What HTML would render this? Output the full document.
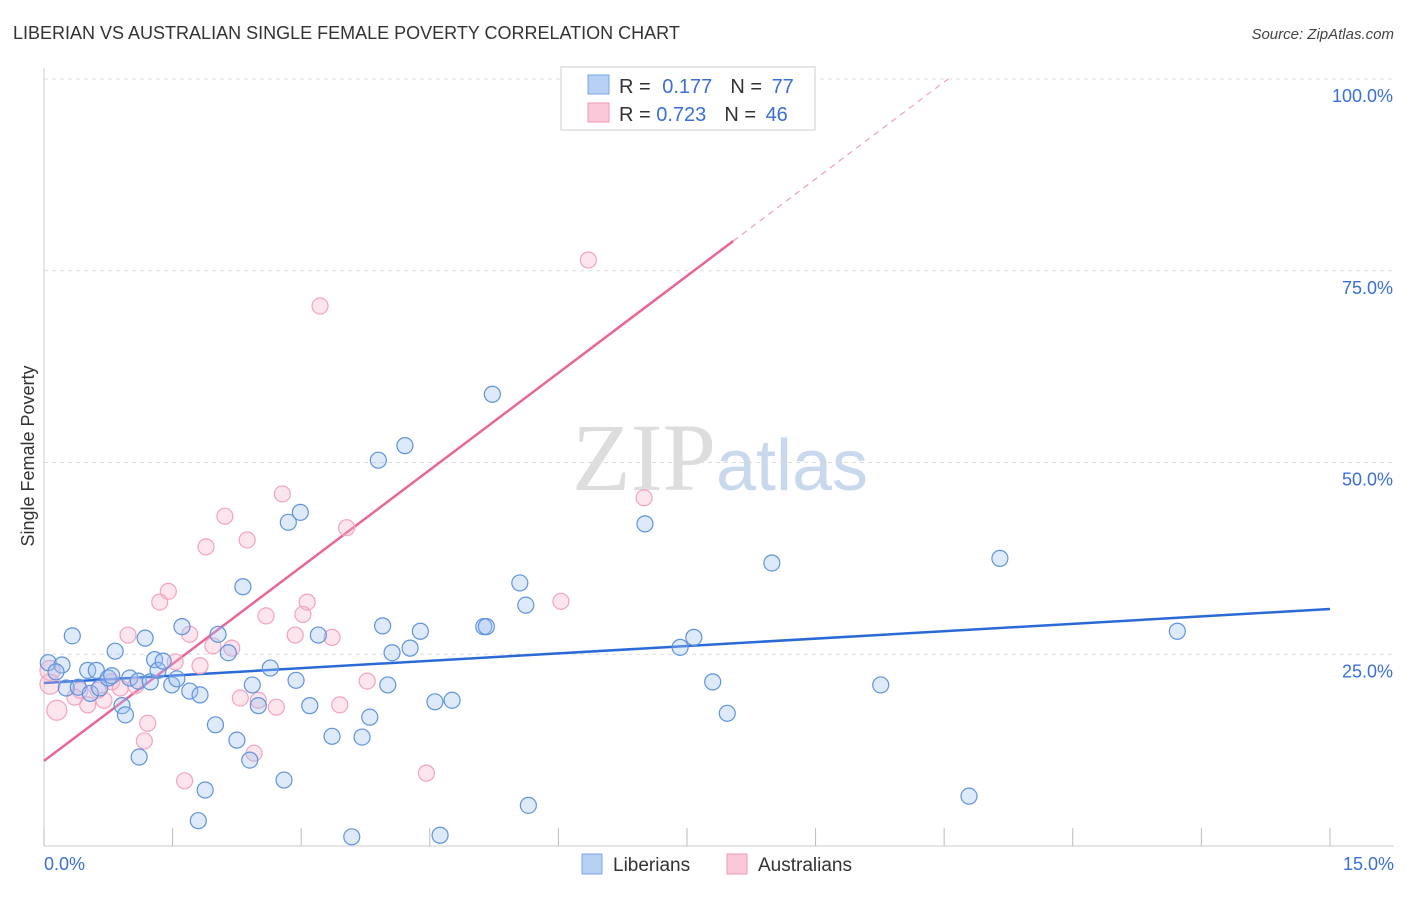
<!DOCTYPE html>
<html><head><meta charset="utf-8">
<style>
body{margin:0;background:#fff;font-family:"Liberation Sans",sans-serif;}
svg text{font-family:"Liberation Sans",sans-serif;}
</style></head>
<body>
<svg id="chart" width="1406" height="892" xmlns="http://www.w3.org/2000/svg">
<text x="13" y="39" font-size="18" fill="#333">LIBERIAN VS AUSTRALIAN SINGLE FEMALE POVERTY CORRELATION CHART</text>
<text x="1394" y="39" font-size="15" fill="#444" text-anchor="end" font-style="italic">Source: ZipAtlas.com</text>
<text x="720" y="490" font-size="96" text-anchor="middle"><tspan fill="#ddd" font-family="Liberation Serif">ZIP</tspan><tspan fill="#c8d9ee" font-size="72">atlas</tspan></text>
<text transform="translate(34,456) rotate(-90)" font-size="18" fill="#333" text-anchor="middle">Single Female Poverty</text>
<g id="grid"></g><g id="axes"></g><g id="lines"></g><g id="pts"></g>
<g>
<rect x="561" y="67" width="254" height="63" fill="#fff" stroke="#ccc"/>
<rect x="588" y="75" width="21" height="19" fill="#b8d0f4" stroke="#7aa4e4"/>
<rect x="588" y="103" width="21" height="19" fill="#fac8d8" stroke="#ee9ab6"/>
<text x="619" y="93" font-size="20" fill="#333">R = <tspan fill="#3a6fd8" dx="6">0.177</tspan><tspan fill="#333" dx="18">N = </tspan><tspan fill="#3a6fd8" dx="4">77</tspan></text>
<text x="619" y="121" font-size="20" fill="#333">R = <tspan fill="#3a6fd8">0.723</tspan><tspan fill="#333" dx="18">N = </tspan><tspan fill="#3a6fd8" dx="4">46</tspan></text>
</g>
<g>
<rect x="582" y="854" width="20" height="20" fill="#b8d0f4" stroke="#7aa4e4"/>
<text x="613" y="871" font-size="19" fill="#333">Liberians</text>
<rect x="727" y="854" width="20" height="20" fill="#fac8d8" stroke="#ee9ab6"/>
<text x="758" y="871" font-size="19" fill="#333">Australians</text>
</g>
</svg>
<script>
const xTicks=[0,1.5,3,4.5,6,7.5,9,10.5,12,13.5,15];
const yTicks=[25,50,75,100];
const yTickLabels=["25.0%","50.0%","75.0%","100.0%"];
const blueX=[0.05,0.21,0.14,0.33,0.26,0.4,0.51,0.61,0.54,0.65,0.75,0.79,0.83,0.91,0.95,1.0,1.1,1.11,1.18,1.24,1.29,1.33,1.39,1.49,1.55,1.61,1.7,1.82,1.8,1.88,2.0,2.03,2.15,2.25,2.32,2.4,2.43,2.5,2.64,2.8,2.85,2.94,2.99,3.1,3.2,3.36,3.59,3.71,3.8,3.9,3.95,4.01,4.06,4.21,4.27,4.39,4.56,4.62,4.76,5.13,5.16,5.23,5.55,5.62,5.65,7.01,7.42,7.58,7.8,7.97,8.49,9.76,10.79,11.15,13.22];
const blueY=[23.9,23.6,22.7,27.4,20.6,20.7,22.9,22.9,19.9,20.6,21.9,22.2,25.4,18.3,17.1,21.9,21.5,11.6,27.1,21.4,24.3,22.9,24.1,21.0,21.8,28.6,20.2,19.7,3.3,7.3,15.8,27.6,25.2,13.8,33.8,11.2,21.0,18.3,23.2,8.6,42.2,21.6,43.5,18.3,27.5,14.3,1.2,14.2,16.8,50.3,28.7,21.0,25.2,52.2,25.8,28.0,18.8,1.4,19.0,28.6,28.6,58.9,34.3,31.4,5.3,42.0,25.9,27.2,21.4,17.3,36.9,21.0,6.5,37.5,28.0];
const pinkX=[0.07,0.07,0.15,0.36,0.42,0.51,0.63,0.7,0.79,0.89,0.98,1.07,1.17,1.21,1.35,1.45,1.53,1.64,1.7,1.82,1.89,1.97,2.11,2.19,2.29,2.37,2.45,2.5,2.59,2.71,2.78,2.93,3.02,3.07,3.22,3.36,3.45,3.53,3.77,4.46,6.03,6.18,6.35,7.0];
const pinkY=[22.9,21.1,17.7,19.4,20.3,18.4,20.3,19.0,21.4,20.6,27.5,20.9,13.7,16.0,31.8,33.2,24.0,8.5,27.6,23.5,39.0,26.1,43.0,25.8,19.3,39.9,12.1,19.0,30.0,18.1,45.9,27.5,30.2,31.8,70.4,27.2,18.4,41.5,21.5,9.5,31.9,100,76.4,45.4];
const blueLine=[21.25,30.9];
const pinkLine=[11.1,8.43];
const X=v=>44+v*85.73, Y=v=>846-v*7.67;
const NS="http://www.w3.org/2000/svg";
function mk(p,t,a){const e=document.createElementNS(NS,t);for(const k in a)e.setAttribute(k,a[k]);document.getElementById(p).appendChild(e);return e;}
yTicks.forEach((t,i)=>{
 const g=mk('grid','line',{x1:44,x2:1394,y1:Y(t),y2:Y(t),stroke:'#ddd','stroke-dasharray':'4,4'});
 
 
 const l=mk('axes','text',{x:1393,y:Y(t)+23,'font-size':18,fill:'#3a6fd8','text-anchor':'end'});
 l.textContent=yTickLabels[i];
 
 
});
const ax=mk('axes','line',{x1:44,x2:1394,y1:846,y2:846,stroke:'#ccc'});


const ay=mk('axes','line',{x1:44,x2:44,y1:68,y2:846,stroke:'#ccc'});


xTicks.forEach(t=>{const e=mk('axes','line',{x1:X(t),x2:X(t),y1:828,y2:846,stroke:'#bbb'});
 
 });
let t0=mk('axes','text',{x:44,y:870,'font-size':18,fill:'#3a6fd8'});t0.textContent="0.0%";


let t1=mk('axes','text',{x:1394,y:870,'font-size':18,fill:'#3a6fd8','text-anchor':'end'});t1.textContent="15.0%";


const bl=mk('lines','line',{x1:X(0),y1:Y(blueLine[0]),x2:X(15),y2:Y(blueLine[1]),stroke:'#2a6ad6','stroke-width':2.5});


const pe=8.04;
const pl=mk('lines','line',{x1:X(0),y1:Y(pinkLine[0]),x2:X(pe),y2:Y(pinkLine[0]+pinkLine[1]*pe),stroke:'#e8669a','stroke-width':2.5});


const pe2=(100-pinkLine[0])/pinkLine[1];
const pd=mk('lines','line',{x1:X(pe),y1:Y(pinkLine[0]+pinkLine[1]*pe),x2:X(pe2),y2:Y(100),stroke:'#f0a0bd','stroke-width':1.2,'stroke-dasharray':'6,5'});


pinkX.forEach((x,i)=>{const r=i<3?10:8;const c=mk('pts','circle',{cx:X(x),cy:Y(pinkY[i]),r:r,fill:'rgba(247,180,203,0.35)',stroke:'#f2a4be','stroke-width':1.2});
 
 });
blueX.forEach((x,i)=>{const c=mk('pts','circle',{cx:X(x),cy:Y(blueY[i]),r:8,fill:'rgba(160,194,240,0.35)',stroke:'#5f93df','stroke-width':1.2});
 
 });
</script>
</body></html>
